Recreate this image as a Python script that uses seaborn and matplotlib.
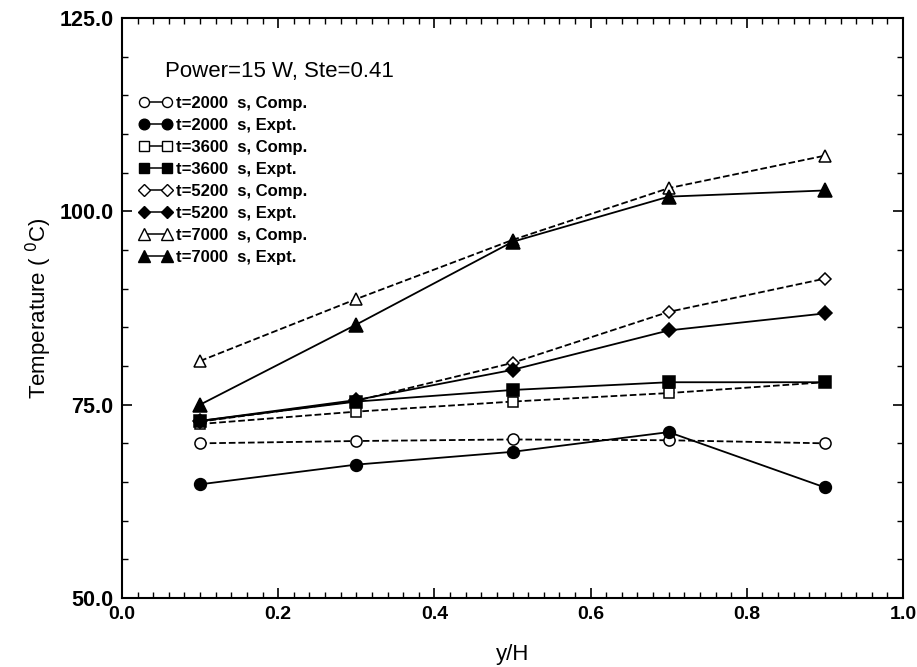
import numpy as np
import pandas as pd
import matplotlib
matplotlib.use("Agg")
import matplotlib.pyplot as plt
import seaborn as sns
from matplotlib.lines import Line2D
from matplotlib.ticker import MultipleLocator, FormatStrFormatter

sns.set_theme(style="white")
plt.rcParams['font.family'] = ['Liberation Sans', 'DejaVu Sans']
plt.rcParams['text.color'] = 'black'
plt.rcParams['axes.labelcolor'] = 'black'
plt.rcParams['xtick.color'] = 'black'
plt.rcParams['ytick.color'] = 'black'

yH = [0.1, 0.3, 0.5, 0.7, 0.9]
t2000_comp = [70.0, 70.3, 70.5, 70.4, 70.0]
t2000_expt = [64.7, 67.25, 68.9, 71.45, 64.3]
t3600_comp = [72.5, 74.1, 75.4, 76.5, 77.9]
t3600_expt = [72.9, 75.4, 76.9, 77.9, 77.9]
t5200_comp = [72.8, 75.5, 80.4, 87.0, 91.3]
t5200_expt = [72.9, 75.6, 79.5, 84.6, 86.8]
t7000_comp = [80.65, 88.66, 96.3, 103.0, 107.2]
t7000_expt = [75.0, 85.36, 96.06, 101.9, 102.7]

labels = ["t=2000  s, Comp.", "t=2000  s, Expt.",
          "t=3600  s, Comp.", "t=3600  s, Expt.",
          "t=5200  s, Comp.", "t=5200  s, Expt.",
          "t=7000  s, Comp.", "t=7000  s, Expt."]
series = [t2000_comp, t2000_expt, t3600_comp, t3600_expt,
          t5200_comp, t5200_expt, t7000_comp, t7000_expt]
markers = ['o', 'o', 's', 's', 'D', 'D', '^', '^']
sizes = [8, 8.5, 7.5, 8, 6.5, 7, 9, 9.5]
filled = [False, True] * 4

rows = []
for lab, vals in zip(labels, series):
    for x, v in zip(yH, vals):
        rows.append({"y/H": x, "T": v, "series": lab})
df = pd.DataFrame(rows)

fig = plt.figure(figsize=(9.17, 6.67), dpi=100)
ax = fig.add_axes([122/917, 1-598/667, (903-122)/917, (598-18)/667])

handles = []
for lab, m, s, f in zip(labels, markers, sizes, filled):
    sub = df[df["series"] == lab]
    ls = '-' if f else '--'
    sns.lineplot(data=sub, x="y/H", y="T", ax=ax, color='black', linestyle=ls,
                 linewidth=1.3, marker=m, markersize=s,
                 markerfacecolor='black' if f else 'white',
                 markeredgecolor='black', markeredgewidth=1.1,
                 legend=False, errorbar=None, zorder=3 if f else 2)
    handles.append(Line2D([0], [0], color='black', linestyle='-', linewidth=1.1,
                          marker=m, markersize=s*0.9,
                          markerfacecolor='black' if f else 'white',
                          markeredgecolor='black', markeredgewidth=1.0))

ax.set_xlim(0, 1.0)
ax.set_ylim(50, 125)
ax.xaxis.set_major_locator(MultipleLocator(0.2))
ax.xaxis.set_minor_locator(MultipleLocator(0.02))
ax.yaxis.set_major_locator(MultipleLocator(25))
ax.yaxis.set_minor_locator(MultipleLocator(5))
ax.xaxis.set_major_formatter(FormatStrFormatter('%.1f'))
ax.yaxis.set_major_formatter(FormatStrFormatter('%.1f'))
ax.tick_params(which='both', direction='in', top=True, right=True,
               bottom=True, left=True, color='black')
ax.tick_params(which='major', length=7, width=1.2, pad=6)
ax.tick_params(axis='y', which='major', labelsize=15.5)
ax.tick_params(axis='x', which='major', labelsize=14)
ax.tick_params(which='minor', length=4, width=1.0)
for lbl in ax.get_xticklabels() + ax.get_yticklabels():
    lbl.set_fontweight('bold')
for sp in ax.spines.values():
    sp.set_color('black')
    sp.set_linewidth(1.5)

ax.set_xlabel("y/H", fontsize=16, labelpad=15)
ax.set_ylabel("Temperature ( $^{0}$C)", fontsize=16, labelpad=4)

ax.text(0.055, 0.907, "Power=15 W, Ste=0.41", transform=ax.transAxes,
        fontsize=16, ha='left', va='center')

leg = ax.legend(handles, labels, loc='upper left', bbox_to_anchor=(0.013, 0.877),
                frameon=False, numpoints=2, handlelength=2.0, handletextpad=0.25,
                labelspacing=0.42, borderaxespad=0.0,
                prop={'size': 12, 'weight': 'bold'})

fig.savefig("out.png", dpi=100)
